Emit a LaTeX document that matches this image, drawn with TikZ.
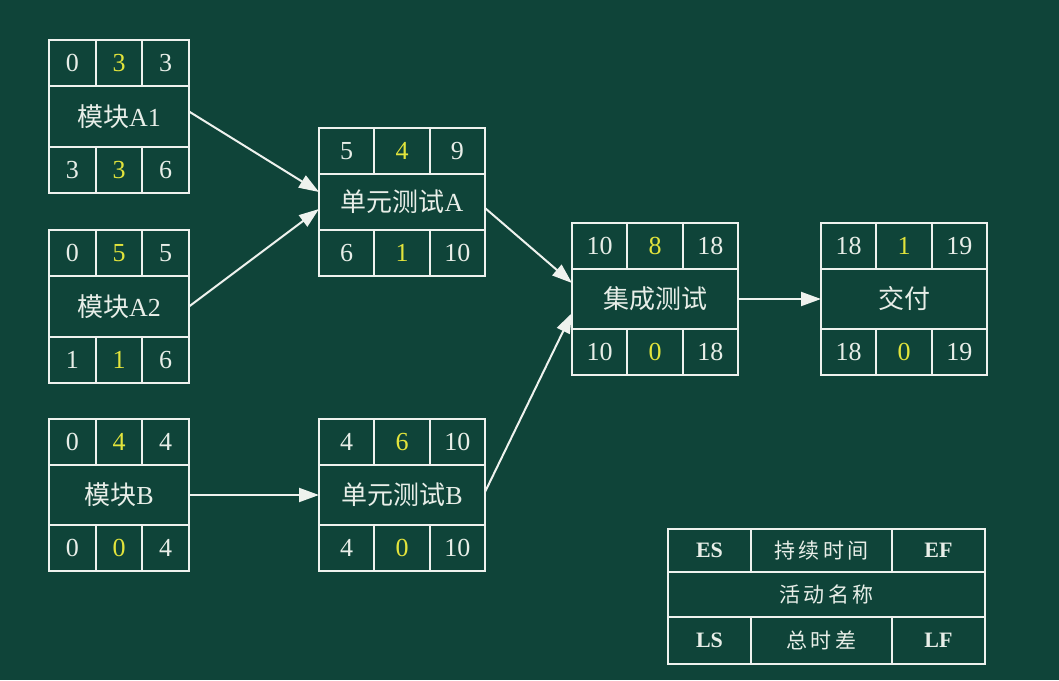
\documentclass[tikz,border=0pt]{standalone}
\usepackage{fontspec}
\setmainfont{Liberation Serif}
\newfontfamily\cjk{Noto Sans CJK SC}
\newfontfamily\cjkls[LetterSpace=16]{Noto Sans CJK SC}
\usetikzlibrary{arrows.meta}
\definecolor{bg}{RGB}{15,68,57}
\definecolor{lc}{RGB}{238,242,238}
\definecolor{txc}{RGB}{232,238,232}
\definecolor{hl}{RGB}{226,228,60}
\def\parsethree#1/#2/#3\relax{\def\valA{#1}\def\valB{#2}\def\valC{#3}}
\newcommand\actbox[8]{%
  \parsethree#6\relax
  \node[cell,minimum width=#4,anchor=north west] (#1-es) at (#2,#3) {\valA};
  \node[cell,minimum width=#4,anchor=north west] (#1-du) at (#1-es.north east) {\textcolor{hl}{\valB}};
  \node[cell,minimum width=#4,anchor=north west] (#1-ef) at (#1-du.north east) {\valC};
  \node[cell,minimum width=3*#4,minimum height=#5,anchor=north west] (#1-mid) at (#1-es.south west) {#7};
  \parsethree#8\relax
  \node[cell,minimum width=#4,anchor=north west] (#1-ls) at (#1-mid.south west) {\valA};
  \node[cell,minimum width=#4,anchor=north west] (#1-tf) at (#1-ls.north east) {\textcolor{hl}{\valB}};
  \node[cell,minimum width=#4,anchor=north west] (#1-lf) at (#1-tf.north east) {\valC};
}
\begin{document}
\begin{tikzpicture}[x=1pt,y=-1pt,
  cell/.style={draw=lc,line width=1.7pt,inner sep=0pt,outer sep=0pt,minimum height=46,
    text=txc,font=\fontsize{26}{30}\selectfont},
  legcell/.style={draw=lc,line width=1.7pt,inner sep=0pt,outer sep=0pt,
    text=txc,font=\fontsize{22}{26}\selectfont\bfseries},
  legcjk/.style={font=\cjkls\fontsize{21}{25}\selectfont},
  arr/.style={draw=lc,line width=2pt,-{Triangle[length=20pt,width=14pt]}}]
\useasboundingbox (0,0) rectangle (1059,680);
\fill[bg] (0,0) rectangle (1059,680);

\actbox{aone}{49}{40}{46.67}{61}{0/3/3}{{\cjk 模块}A1}{3/3/6}
\actbox{atwo}{49}{230}{46.67}{61}{0/5/5}{{\cjk 模块}A2}{1/1/6}
\actbox{mb}{49}{419}{46.67}{60}{0/4/4}{{\cjk 模块}B}{0/0/4}
\actbox{ua}{319}{128}{55.33}{56}{5/4/9}{{\cjk 单元测试}A}{6/1/10}
\actbox{ub}{319}{419}{55.33}{60}{4/6/10}{{\cjk 单元测试}B}{4/0/10}
\actbox{jc}{572}{223}{55.33}{60}{10/8/18}{{\cjk 集成测试}}{10/0/18}
\actbox{jf}{821}{223}{55.33}{60}{18/1/19}{{\cjk 交付}}{18/0/19}

\draw[arr] ([yshift=5pt]aone-mid.east) -- ([yshift=10pt]ua-mid.west);
\draw[arr] (atwo-mid.east) -- ([yshift=-7pt]ua-mid.west);
\draw[arr] (mb-mid.east) -- (ub-mid.west);
\draw[arr] ([yshift=-6pt]ua-mid.east) -- ([yshift=16pt]jc-mid.west);
\draw[arr] ([yshift=3pt]ub-mid.east) -- ([yshift=-14pt]jc-mid.west);
\draw[arr] (jc-mid.east) -- (jf-mid.west);

% legend
\node[legcell,minimum width=83,minimum height=43,anchor=north west] (lg-es) at (668,529) {ES};
\node[legcell,legcjk,minimum width=141,minimum height=43,anchor=north west] (lg-du) at (lg-es.north east) {持续时间};
\node[legcell,minimum width=93,minimum height=43,anchor=north west] (lg-ef) at (lg-du.north east) {EF};
\node[legcell,legcjk,minimum width=317,minimum height=45,anchor=north west] (lg-mid) at (lg-es.south west) {活动名称};
\node[legcell,minimum width=83,minimum height=47,anchor=north west] (lg-ls) at (lg-mid.south west) {LS};
\node[legcell,legcjk,minimum width=141,minimum height=47,anchor=north west] (lg-tf) at (lg-ls.north east) {总时差};
\node[legcell,minimum width=93,minimum height=47,anchor=north west] (lg-lf) at (lg-tf.north east) {LF};
\end{tikzpicture}
\end{document}
